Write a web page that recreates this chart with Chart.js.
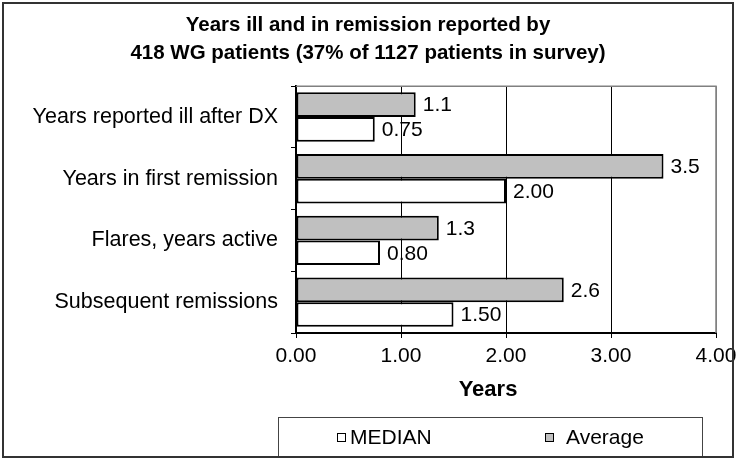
<!DOCTYPE html>
<html>
<head>
<meta charset="utf-8">
<script src="https://cdn.jsdelivr.net/npm/chart.js@4"></script>
<style>
    html, body { margin: 0; padding: 0; background: #fff; }
</style>
</head>
<body>
<canvas id="remissionChart" width="736" height="461"></canvas>
<script>
const categories = [
    "Years reported ill after DX",
    "Years in first remission",
    "Flares, years active",
    "Subsequent remissions"
];
const averageValues = [1.14, 3.5, 1.36, 2.55];
const averageLabels = ["1.1", "3.5", "1.3", "2.6"];
const medianValues = [0.75, 2.0, 0.8, 1.5];
const medianLabels = ["0.75", "2.00", "0.80", "1.50"];
const xMin = 0;
const xMax = 4;
const titleLines = [
    "Years ill and in remission reported by",
    "418 WG patients (37% of 1127 patients in survey)"
];
const axisTitle = "Years";

const FONT = "'Liberation Sans', Arial, sans-serif";

// value labels to the right of each bar
const barValueLabels = {
    id: "barValueLabels",
    afterDatasetsDraw(chart) {
        const ctx = chart.ctx;
        ctx.save();
        ctx.font = "21px " + FONT;
        ctx.fillStyle = "#000";
        ctx.textAlign = "left";
        ctx.textBaseline = "middle";
        chart.data.datasets.forEach((ds, i) => {
            chart.getDatasetMeta(i).data.forEach((bar, j) => {
                ctx.fillText(ds.valueLabels[j], bar.x + 7, bar.y + 1);
            });
        });
        ctx.restore();
    }
};

// plot border, axis title, boxed legend and outer frame (excel style)
const excelFrame = {
    id: "excelFrame",
    afterDraw(chart) {
        const ctx = chart.ctx;
        const a = chart.chartArea;
        ctx.save();

        ctx.strokeStyle = "#808080";
        ctx.lineWidth = 1.5;
        ctx.beginPath();
        ctx.moveTo(a.left, a.top);
        ctx.lineTo(a.right, a.top);
        ctx.lineTo(a.right, a.bottom);
        ctx.stroke();

        ctx.fillStyle = "#000";
        ctx.font = "bold 22px " + FONT;
        ctx.textAlign = "center";
        ctx.textBaseline = "middle";
        ctx.fillText(axisTitle, 488, 390);

        // legend box
        ctx.strokeStyle = "#444";
        ctx.lineWidth = 1;
        ctx.strokeRect(278.5, 417.5, 424, 40);

        const items = chart.data.datasets.slice().reverse();
        const boxX = [337, 545];
        const textX = [350, 566];
        ctx.font = "21px " + FONT;
        ctx.textAlign = "left";
        items.forEach((ds, i) => {
            ctx.fillStyle = ds.backgroundColor;
            ctx.fillRect(boxX[i] + 0.5, 433.5, 8, 8);
            ctx.strokeStyle = "#000";
            ctx.strokeRect(boxX[i] + 0.5, 433.5, 8, 8);
            ctx.fillStyle = "#000";
            ctx.fillText(ds.label, textX[i], 438);
        });

        // outer frame
        ctx.strokeStyle = "#333";
        ctx.lineWidth = 2;
        ctx.strokeRect(3, 3, 730, 454);
        ctx.restore();
    }
};

new Chart(document.getElementById("remissionChart"), {
    type: "bar",
    data: {
        labels: categories,
        datasets: [
            {
                label: "Average",
                data: averageValues,
                valueLabels: averageLabels,
                backgroundColor: "#C0C0C0",
                borderColor: "#000",
                borderWidth: 2,
                borderSkipped: false
            },
            {
                label: "MEDIAN",
                data: medianValues,
                valueLabels: medianLabels,
                backgroundColor: "#FFFFFF",
                borderColor: "#000",
                borderWidth: 2,
                borderSkipped: false
            }
        ]
    },
    options: {
        indexAxis: "y",
        responsive: false,
        animation: false,
        devicePixelRatio: 1,
        categoryPercentage: 0.8,
        barPercentage: 1,
        layout: {
            padding: { left: 20, right: 20, top: 0, bottom: 58 }
        },
        plugins: {
            legend: { display: false },
            tooltip: { enabled: false },
            title: {
                display: true,
                text: titleLines,
                color: "#000",
                font: { family: FONT, size: 20.5, weight: "bold", lineHeight: 1.37 },
                padding: { top: 11, bottom: 19 }
            }
        },
        scales: {
            x: {
                min: xMin,
                max: xMax,
                ticks: {
                    stepSize: 1,
                    color: "#000",
                    padding: 6,
                    font: { family: FONT, size: 21 },
                    callback: value => value.toFixed(2)
                },
                grid: {
                    color: ctx => (ctx.tick && ctx.tick.value === xMax ? "#808080" : "#000"),
                    lineWidth: 1,
                    tickColor: "#000",
                    tickLength: 5
                },
                border: { color: "#000", width: 2 },
                afterFit: scale => {
                    scale.height = 70;
                    // let the last tick label run to the frame like the original
                    scale.paddingRight = 0;
                    scale.paddingLeft = 0;
                }
            },
            y: {
                ticks: {
                    color: "#000",
                    padding: 13,
                    font: { family: FONT, size: 21.5 }
                },
                grid: {
                    drawOnChartArea: false,
                    offset: true,
                    tickColor: "#000",
                    tickLength: 5
                },
                border: { color: "#000", width: 2 },
                afterFit: scale => { scale.width = 276; }
            }
        }
    },
    plugins: [barValueLabels, excelFrame]
});
</script>
</body>
</html>
